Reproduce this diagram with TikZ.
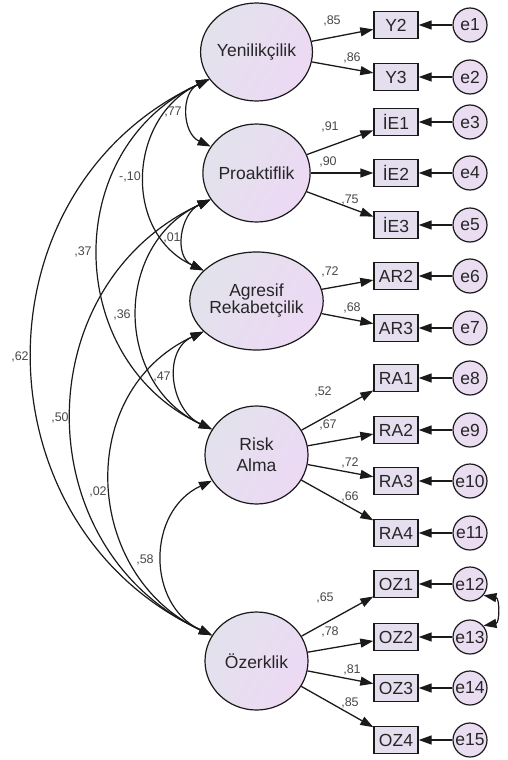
\documentclass[tikz,border=0pt]{standalone}
\usepackage{fontspec}
\setmainfont{Liberation Sans}
\usetikzlibrary{arrows.meta,shapes.geometric}
\definecolor{ink}{HTML}{1A1A1A}
\definecolor{txt}{HTML}{262626}
\definecolor{labgray}{HTML}{484848}
\definecolor{latA}{HTML}{E2E2EC}
\definecolor{latB}{HTML}{EDD9F4}
\definecolor{boxfill}{HTML}{E4DEEF}
\definecolor{errfill}{HTML}{EADDF1}
\begin{document}
\begin{tikzpicture}[x=1pt,y=1pt,
  big/.style={font=\fontsize{17.5}{19}\selectfont, text=txt},
  latent/.style={ellipse, draw=ink, line width=1.2pt, minimum width=103pt,
    minimum height=98pt, inner sep=0pt, left color=latA, right color=latB,
    shading angle=60, align=center, big},
  obs/.style={rectangle, draw=ink, line width=1.3pt, minimum width=44pt,
    minimum height=27pt, inner sep=0pt, fill=boxfill, big},
  err/.style={circle, draw=ink, line width=1.2pt, minimum size=34pt,
    inner sep=0pt, fill=errfill, big},
  tip/.tip={Triangle[length=13pt,width=9pt]},
  load/.style={draw=ink, line width=1.3pt, -tip},
  cov/.style={draw=ink, line width=1.2pt, tip-tip},
  cv/.style={out=205, in=155, looseness=1.2},
  lab/.style={font=\fontsize{12.5}{12.5}\selectfont, text=labgray, inner sep=0pt}
]
\useasboundingbox (0,0) rectangle (507,-760);

% latent factors
\node[latent] (Y) at (256.5,-52)  {Yenilikçilik};
\node[latent] (P) at (256.5,-173) {Proaktiflik};
\node[latent] (A) at (256.5,-301) {Agresif\\[-2pt]Rekabetçilik};
\node[latent] (R) at (256.5,-455) {Risk\\[2pt]Alma};
\node[latent] (O) at (256.5,-661) {Özerklik};

% observed indicators and their error terms
\foreach \n/\t/\e/\y in {y2/Y2/e1/25, y3/Y3/e2/77, ie1/İE1/e3/122, ie2/İE2/e4/173,
    ie3/İE3/e5/225, ar2/AR2/e6/276, ar3/AR3/e7/328, ra1/RA1/e8/378, ra2/RA2/e9/430,
    ra3/RA3/e10/481, ra4/RA4/e11/533, oz1/OZ1/e12/584, oz2/OZ2/e13/637,
    oz3/OZ3/e14/688, oz4/OZ4/e15/740}{
  \node[obs] (\n) at (396,-\y) {\t};
  \node[err] (\e) at (470,-\y) {\e};
  \draw[load] (\e) -- (\n);
}

% factor loadings
\foreach \f/\n in {Y/y2, Y/y3, P/ie1, P/ie2, P/ie3, A/ar2, A/ar3, R/ra1, R/ra2,
    R/ra3, R/ra4, O/oz1, O/oz2, O/oz3, O/oz4}{
  \draw[load] (\f) -- (\n);
}

% loading estimates
\node[lab] (l1)  at (332,-21)  {,85};
\node[lab] (l2)  at (352,-58)  {,86};
\node[lab] (l3)  at (330,-127) {,91};
\node[lab] (l4)  at (328,-162) {,90};
\node[lab] (l5)  at (350,-200) {,75};
\node[lab] (l6)  at (330,-272) {,72};
\node[lab] (l7)  at (352,-308) {,68};
\node[lab] (l8)  at (323,-392) {,52};
\node[lab] (l9)  at (328,-425) {,67};
\node[lab] (l10) at (350,-463) {,72};
\node[lab] (l11) at (350,-497) {,66};
\node[lab] (l12) at (325,-598) {,65};
\node[lab] (l13) at (330,-632) {,78};
\node[lab] (l14) at (352,-670) {,81};
\node[lab] (l15) at (350,-703) {,85};

% factor covariances
\draw[cov] (Y.210) to[cv] (P.150);
\draw[cov] (Y.210) to[cv] (A.150);
\draw[cov] (Y.210) to[cv] (R.150);
\draw[cov] (Y.210) to[cv] (O.150);
\draw[cov] (P.210) to[cv] (A.150);
\draw[cov] (P.210) to[cv] (R.150);
\draw[cov] (P.210) to[cv] (O.150);
\draw[cov] (A.210) to[cv] (R.150);
\draw[cov] (A.210) to[cv] (O.150);
\draw[cov] (R.210) to[cv] (O.150);

% error covariance
\draw[cov] (e12.-40) to[out=-10, in=10, looseness=1.4] (e13.40);

% covariance estimates
\node[lab] (c1)  at (173,-112) {,77};
\node[lab] (c2)  at (130,-177) {-,10};
\node[lab] (c3)  at (83,-252)  {,37};
\node[lab] (c4)  at (20,-357)  {,62};
\node[lab] (c5)  at (172,-238) {,01};
\node[lab] (c6)  at (122,-315) {,36};
\node[lab] (c7)  at (60,-418)  {,50};
\node[lab] (c8)  at (162,-377) {,47};
\node[lab] (c9)  at (98,-492)  {,02};
\node[lab] (c10) at (145,-560) {,58};
\end{tikzpicture}
\end{document}
